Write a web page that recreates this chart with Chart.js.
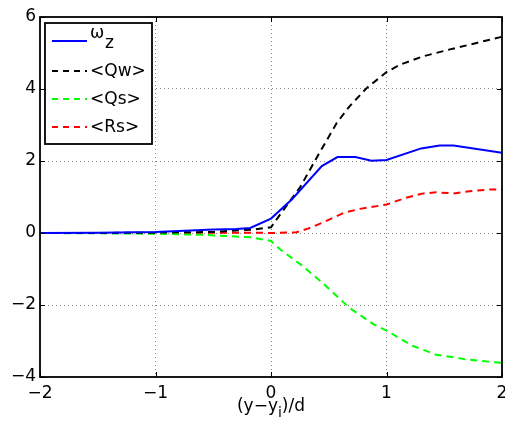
<!DOCTYPE html>
<html>
<head>
<meta charset="utf-8">
<script src="https://cdn.jsdelivr.net/npm/chart.js@4.4.0/dist/chart.umd.min.js"></script>
<style>
  html, body { margin: 0; padding: 0; background: #fff; }
  #wrap { width: 505px; height: 428px; }
</style>
</head>
<body>
<div id="wrap"><canvas id="chart"></canvas></div>
<script>
// data
const xOmega = [-2, -1.5, -1, -0.5, -0.3, -0.18, 0, 0.18, 0.44, 0.575, 0.73, 0.87, 1.0, 1.3, 1.46, 1.58, 2.0];
const omegaZ = [0, 0.01, 0.03, 0.1, 0.11, 0.14, 0.4, 0.93, 1.86, 2.11, 2.11, 2.01, 2.03, 2.35, 2.43, 2.43, 2.23];

const xQw = [-2, -1.5, -1, -0.5, -0.14, 0, 0.11, 0.25, 0.42, 0.57, 0.68, 0.83, 1.0, 1.12, 1.32, 1.55, 1.78, 2.0];
const qw = [0, 0, 0.01, 0.03, 0.1, 0.16, 0.65, 1.26, 2.23, 3.06, 3.52, 4.03, 4.47, 4.68, 4.91, 5.1, 5.28, 5.45];

const xQs = [-2, -1.5, -1, -0.6, -0.4, -0.18, 0, 0.08, 0.25, 0.44, 0.68, 0.89, 1.0, 1.23, 1.43, 1.67, 2.0];
const qs = [0, -0.01, -0.02, -0.05, -0.08, -0.12, -0.22, -0.46, -0.86, -1.37, -2.08, -2.54, -2.71, -3.14, -3.38, -3.5, -3.61];

const xRs = [-2, -1, -0.5, -0.18, 0, 0.22, 0.32, 0.44, 0.63, 0.77, 1.0, 1.17, 1.32, 1.43, 1.58, 1.72, 1.9, 2.0];
const rs = [0, 0, 0.01, 0.01, 0, 0.02, 0.12, 0.28, 0.56, 0.67, 0.79, 0.98, 1.1, 1.13, 1.1, 1.16, 1.21, 1.21];

const xTicks = [-2, -1, 0, 1, 2];
const yTicks = [-4, -2, 0, 2, 4, 6];

const FONT = '"DejaVu Sans", sans-serif';
const minus = (v) => String(v).replace('-', '\u2212');
const pts = (xs, ys) => xs.map((x, i) => ({ x: x, y: ys[i] }));

const series = [
  { label: 'omega', data: pts(xOmega, omegaZ), color: '#0000ff', dash: [] },
  { label: '<Qw>', data: pts(xQw, qw), color: '#000000', dash: [7, 5] },
  { label: '<Qs>', data: pts(xQs, qs), color: '#00ff00', dash: [7, 5] },
  { label: '<Rs>', data: pts(xRs, rs), color: '#ff0000', dash: [7, 5] },
];

// box, inward ticks, legend and x label with subscripts
const matlabLook = {
  id: 'matlabLook',
  afterDraw(chart) {
    const ctx = chart.ctx;
    const a = chart.chartArea;
    const xs = chart.scales.x, ys = chart.scales.y;
    ctx.save();
    ctx.strokeStyle = '#000';
    ctx.lineWidth = 1;
    ctx.setLineDash([]);
    ctx.beginPath();
    xTicks.forEach((t) => {
      const px = Math.round(xs.getPixelForValue(t)) + 0.5;
      ctx.moveTo(px, a.bottom); ctx.lineTo(px, a.bottom - 5);
      ctx.moveTo(px, a.top); ctx.lineTo(px, a.top + 5);
    });
    yTicks.forEach((t) => {
      const py = Math.round(ys.getPixelForValue(t)) + 0.5;
      ctx.moveTo(a.left, py); ctx.lineTo(a.left + 5, py);
      ctx.moveTo(a.right, py); ctx.lineTo(a.right - 5, py);
    });
    ctx.stroke();
    ctx.lineWidth = 1.8;
    ctx.strokeRect(a.left, a.top, a.right - a.left, a.bottom - a.top);

    // legend
    const lx = 45, ly = 23, lw = 107, lh = 121;
    ctx.fillStyle = '#fff';
    ctx.fillRect(lx, ly, lw, lh);
    ctx.lineWidth = 1.8;
    ctx.strokeRect(lx, ly, lw, lh);
    const rows = [41, 71, 99, 127];
    ctx.font = '17px ' + FONT;
    series.forEach((s, i) => {
      ctx.strokeStyle = s.color;
      ctx.lineWidth = 2;
      ctx.setLineDash(s.dash.length ? [6, 5] : []);
      ctx.beginPath();
      ctx.moveTo(52, rows[i]);
      ctx.lineTo(87, rows[i]);
      ctx.stroke();
      ctx.setLineDash([]);
      ctx.fillStyle = '#000';
      if (i === 0) {
        ctx.textBaseline = 'alphabetic';
        ctx.fillText('\u03c9', 90, 38);
        ctx.fillText('z', 105, 48);
      } else {
        ctx.textBaseline = 'middle';
        ctx.fillText(s.label, 90, rows[i] + 1);
      }
    });

    // x axis title (y-y_i)/d
    ctx.font = '17px ' + FONT;
    ctx.fillStyle = '#000';
    ctx.textBaseline = 'alphabetic';
    const p1 = '(y\u2212y', p2 = 'i', p3 = ')/d';
    const w1 = ctx.measureText(p1).width;
    ctx.font = '14px ' + FONT;
    const w2 = ctx.measureText(p2).width;
    ctx.font = '17px ' + FONT;
    const w3 = ctx.measureText(p3).width;
    let x0 = 271 - (w1 + w2 + w3) / 2;
    ctx.fillText(p1, x0, 411);
    ctx.font = '14px ' + FONT;
    ctx.fillText(p2, x0 + w1, 417);
    ctx.font = '17px ' + FONT;
    ctx.fillText(p3, x0 + w1 + w2, 411);
    ctx.restore();
  },
};

const gridColor = (ctx) => {
  const v = ctx.tick ? ctx.tick.value : null;
  const ends = ctx.scale.axis === 'x' ? [-2, 2] : [-4, 6];
  return ends.includes(v) ? 'rgba(0,0,0,0)' : '#888';
};

new Chart(document.getElementById('chart'), {
  type: 'line',
  data: {
    datasets: series.map((s) => ({
      label: s.label,
      data: s.data,
      borderColor: s.color,
      backgroundColor: s.color,
      borderWidth: 2,
      borderDash: s.dash,
      pointRadius: 0,
      tension: 0,
      fill: false,
    })),
  },
  options: {
    responsive: true,
    maintainAspectRatio: false,
    animation: false,
    layout: { padding: { top: 17, right: 3, left: 0, bottom: 0 } },
    plugins: {
      legend: { display: false },
      tooltip: { enabled: false },
    },
    scales: {
      x: {
        type: 'linear',
        min: -2,
        max: 2,
        afterFit: (s) => {
          s.height = 51;
          s.paddingLeft = 0;
          s.paddingRight = 0;
        },
        afterBuildTicks: (s) => { s.ticks = xTicks.map((v) => ({ value: v })); },
        grid: { color: gridColor, lineWidth: 1, drawTicks: false },
        border: { display: false, dash: [1, 3] },
        ticks: {
          padding: 6,
          color: '#000',
          font: { family: FONT, size: 17 },
          callback: (v) => minus(v),
        },
      },
      y: {
        type: 'linear',
        min: -4,
        max: 6,
        afterFit: (s) => {
          s.width = 40;
          s.paddingTop = 0;
          s.paddingBottom = 0;
        },
        afterBuildTicks: (s) => { s.ticks = yTicks.map((v) => ({ value: v })); },
        grid: { color: gridColor, lineWidth: 1, drawTicks: false },
        border: { display: false, dash: [1, 3] },
        ticks: {
          padding: 4,
          color: '#000',
          font: { family: FONT, size: 17 },
          callback: (v) => minus(v),
        },
      },
    },
  },
  plugins: [matlabLook],
});
</script>
</body>
</html>
